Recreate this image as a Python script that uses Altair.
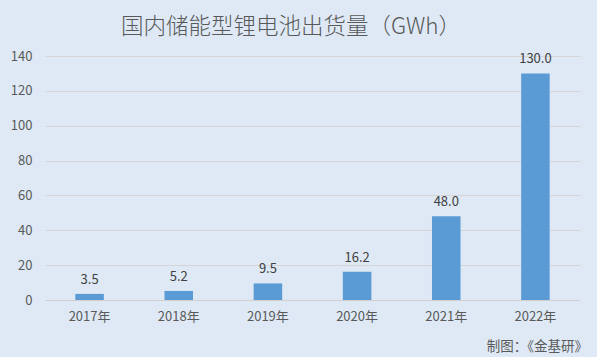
import altair as alt
import pandas as pd

years = ["2017年", "2018年", "2019年", "2020年", "2021年", "2022年"]
values = [3.5, 5.2, 9.5, 16.2, 48.0, 130.0]
labels = ["3.5", "5.2", "9.5", "16.2", "48.0", "130.0"]
title_text = "国内储能型锂电池出货量（GWh）"
source_text = "制图：《金基研》"

df = pd.DataFrame({"year": years, "value": values, "label": labels})
FONT = "Noto Sans CJK SC"
GREY = "#595959"

x = alt.X("year:N", sort=years, title=None,
          scale=alt.Scale(paddingInner=0.68, paddingOuter=0.34),
          axis=alt.Axis(labelAngle=0, domain=True, domainColor="#d0d0d0", ticks=False,
                        labelPadding=10, labelFontSize=13, labelColor=GREY, labelFont=FONT))
y = alt.Y("value:Q", title=None,
          scale=alt.Scale(domain=[0, 140], nice=False),
          axis=alt.Axis(values=[0, 20, 40, 60, 80, 100, 120, 140], domain=False, ticks=False,
                        labelOverlap=False, labelPadding=13, labelFontSize=13,
                        labelColor=GREY, labelFont=FONT,
                        gridColor="#d6d6d6", gridWidth=1))

bars = alt.Chart(df).mark_bar(color="#5b9bd5").encode(x=x, y=y)
text = alt.Chart(df).mark_text(dy=-14, fontSize=13, color="#404040", font=FONT).encode(
    x=x, y=y, text="label:N")

title = alt.Chart(pd.DataFrame({"t": [title_text]})).mark_text(
    fontSize=22.5, fontWeight=300, color=GREY, font=FONT, align="center", baseline="middle").encode(
    x=alt.value(246), y=alt.value(-29), text="t:N")
source = alt.Chart(pd.DataFrame({"t": [source_text]})).mark_text(
    fontSize=13.5, color=GREY, font=FONT, align="right", baseline="middle").encode(
    x=alt.value(543), y=alt.value(291), text="t:N")

chart = alt.layer(bars, text, title, source).properties(
    width=535, height=244, background="#dee9f5",
    autosize=alt.AutoSizeParams(type="none"),
    padding={"left": 45, "top": 56, "right": 17, "bottom": 57},
).configure_view(stroke=None)

chart.save("out.html", embed_options={"renderer": "svg", "actions": False})
